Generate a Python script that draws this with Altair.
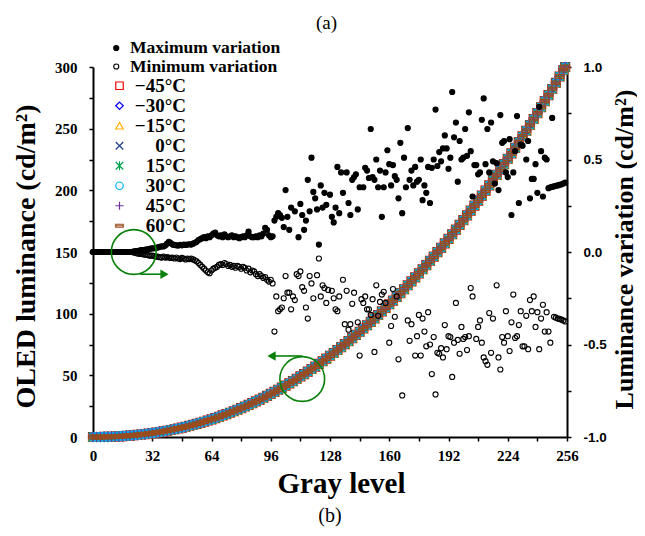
import altair as alt
import pandas as pd

# ---------------- data ----------------
temps = ["\u221245\u00b0C", "\u221230\u00b0C", "\u221215\u00b0C", "0\u00b0C",
         "15\u00b0C", "30\u00b0C", "45\u00b0C", "60\u00b0C"]
temp_colors = ["#ff0000", "#0000ff", "#ffb000", "#1f3f8f",
               "#00a050", "#00b0f0", "#7030a0", "#9c4c1c"]
temp_shapes = ["square", "diamond", "triangle-up",
               "M-1,-1L1,1M1,-1L-1,1",
               "M-1,-1L1,1M1,-1L-1,1M0,-1.2V1.2",
               "circle",
               "M-1.1,0H1.1M0,-1.1V1.1",
               "M-1,-0.4H1V0.4H-1ZM-1,0H1"]

gray_levels = list(range(0, 256, 2)) + [255]
luminance = [0.0, 0.0, 0.0, 0.1, 0.1, 0.2, 0.4, 0.5, 0.7, 0.9,
             1.1, 1.4, 1.7, 2.0, 2.3, 2.7, 3.1, 3.6, 4.0, 4.6,
             5.1, 5.7, 6.3, 6.9, 7.6, 8.3, 9.1, 9.9, 10.7, 11.5,
             12.4, 13.4, 14.3, 15.3, 16.4, 17.5, 18.6, 19.7, 20.9, 22.1,
             23.4, 24.7, 26.1, 27.5, 28.9, 30.3, 31.8, 33.4, 35.0, 36.6,
             38.3, 40.0, 41.7, 43.5, 45.3, 47.2, 49.1, 51.0, 53.0, 55.1,
             57.1, 59.3, 61.4, 63.6, 65.9, 68.1, 70.5, 72.8, 75.3, 77.7,
             80.2, 82.8, 85.3, 88.0, 90.6, 93.4, 96.1, 98.9, 101.8, 104.7,
             107.6, 110.6, 113.6, 116.7, 119.8, 123.0, 126.2, 129.4, 132.7, 136.0,
             139.4, 142.9, 146.3, 149.9, 153.4, 157.0, 160.7, 164.4, 168.2, 172.0,
             175.8, 179.7, 183.6, 187.6, 191.7, 195.7, 199.8, 204.0, 208.2, 212.5,
             216.8, 221.2, 225.6, 230.0, 234.5, 239.1, 243.7, 248.3, 253.0, 257.8,
             262.6, 267.4, 272.3, 277.2, 282.2, 287.2, 292.3, 297.4, 300.0]

# maximum variation, one value per gray level from 0 (dense part)
max_dense = [0.0] * 22 + [
    0.003, 0.005, 0.005, 0.008, 0.01, 0.01, 0.012, 0.015, 0.015, 0.018,
    0.02, 0.02, 0.022, 0.025, 0.028, 0.03, 0.03, 0.035, 0.045, 0.055,
    0.048, 0.04, 0.038, 0.036, 0.035, 0.038, 0.036, 0.04, 0.038, 0.04,
    0.042, 0.04, 0.045, 0.05, 0.055, 0.065, 0.07, 0.075, 0.08, 0.075,
    0.085, 0.08, 0.09, 0.1, 0.105, 0.09, 0.085, 0.09, 0.08, 0.095,
    0.085, 0.08, 0.085, 0.09, 0.08, 0.085, 0.08, 0.075, 0.08, 0.085,
    0.08, 0.09, 0.11, 0.085, 0.08, 0.08, 0.085, 0.08, 0.09, 0.085,
    0.1, 0.13, 0.12, 0.09, 0.08, 0.085]
# maximum variation, scattered part (gray level, value)
max_scatter = [
    (98, 0.17), (99, 0.19), (100, 0.21), (101, 0.2), (102, 0.185), (103, 0.135),
    (104, 0.335), (105, 0.19), (106, 0.12), (107, 0.24), (109, 0.22), (111, 0.08),
    (112, 0.26), (113, 0.2), (114, 0.12), (115, 0.17), (116, 0.39), (117, 0.22),
    (118, 0.51), (119, 0.325), (120, 0.29), (121, 0.23), (122, 0.04), (123, 0.36),
    (124, 0.24), (125, 0.32), (126, 0.255), (128, 0.31), (129, 0.19), (130, 0.16),
    (131, 0.24), (132, 0.46), (133, 0.21), (134, 0.43), (135, 0.32), (137, 0.43),
    (138, 0.265), (139, 0.2), (140, 0.39), (141, 0.405), (142, 0.42), (143, 0.23),
    (144, 0.35), (146, 0.35), (147, 0.455), (148, 0.44), (149, 0.4), (150, 0.665),
    (151, 0.405), (152, 0.39), (153, 0.5), (154, 0.35), (155, 0.44), (156, 0.19),
    (157, 0.35), (158, 0.43), (159, 0.55), (160, 0.475), (161, 0.36), (162, 0.47),
    (163, 0.41), (164, 0.39), (165, 0.29), (166, 0.59), (167, 0.21), (168, 0.51),
    (169, 0.35), (170, 0.67), (171, 0.39), (172, 0.44), (173, 0.36), (174, 0.46),
    (175, 0.38), (176, 0.39), (177, 0.5), (178, 0.28), (179, 0.36), (180, 0.32),
    (181, 0.46), (182, 0.265), (183, 0.455), (184, 0.5), (185, 0.77), (186, 0.465),
    (187, 0.54), (188, 0.49), (189, 0.56), (190, 0.63), (191, 0.56), (192, 0.45),
    (193, 0.51), (194, 0.865), (195, 0.62), (196, 0.70), (197, 0.38), (198, 0.6),
    (199, 0.5), (200, 0.51), (201, 0.665), (202, 0.52), (203, 0.755), (204, 0.545),
    (205, 0.3), (206, 0.47), (207, 0.47), (208, 0.42), (209, 0.43), (210, 0.715),
    (211, 0.83), (212, 0.475), (213, 0.665), (214, 0.43), (215, 0.70), (216, 0.49),
    (217, 0.37), (218, 0.48), (219, 0.335), (220, 0.74), (221, 0.59), (222, 0.6),
    (223, 0.43), (224, 0.405), (225, 0.61), (226, 0.2), (227, 0.43), (228, 0.545),
    (229, 0.735), (230, 0.265), (231, 0.58), (232, 0.575), (234, 0.5), (235, 0.6),
    (236, 0.29), (237, 0.395), (238, 0.395), (239, 0.475), (240, 0.32), (241, 0.785),
    (242, 0.545), (243, 0.30), (244, 0.51), (245, 0.5), (248, 0.725),
    (246, 0.345), (247, 0.35), (248, 0.352), (249, 0.355), (250, 0.358),
    (251, 0.36), (252, 0.363), (253, 0.366), (254, 0.37), (255, 0.375)]

# minimum variation, one value per gray level from 0 (dense part)
min_dense = [0.0] * 22 + [
    -0.003, -0.005, -0.008, -0.01, -0.01, -0.012, -0.015, -0.015, -0.018, -0.02,
    -0.02, -0.022, -0.025, -0.025, -0.028, -0.03, -0.025, -0.03, -0.028, -0.03,
    -0.032, -0.03, -0.035, -0.03, -0.035, -0.038, -0.032, -0.035, -0.04, -0.035,
    -0.038, -0.035, -0.04, -0.045, -0.05, -0.06, -0.07, -0.08, -0.09, -0.1,
    -0.11, -0.115, -0.1, -0.09, -0.085, -0.08, -0.07, -0.065, -0.07, -0.06,
    -0.065, -0.075, -0.07, -0.08, -0.075, -0.085, -0.075, -0.08, -0.09, -0.08,
    -0.085, -0.1, -0.09, -0.11, -0.1, -0.105, -0.12, -0.13, -0.12, -0.13,
    -0.14, -0.135, -0.15, -0.16, -0.15, -0.17]
min_scatter = [
    (98, -0.43), (99, -0.24), (100, -0.32), (101, -0.31), (102, -0.3), (103, -0.25),
    (104, -0.13), (105, -0.22), (106, -0.22), (107, -0.31), (108, -0.24), (109, -0.26),
    (110, -0.12), (111, -0.13), (112, -0.105), (113, -0.19), (114, -0.21), (115, -0.3),
    (116, -0.36), (117, -0.13), (118, -0.17), (119, -0.25), (121, -0.125), (122, -0.035),
    (123, -0.24), (124, -0.18), (125, -0.195), (126, -0.275), (127, -0.205), (129, -0.21),
    (130, -0.25), (131, -0.31), (132, -0.32), (133, -0.24), (135, -0.15), (136, -0.39),
    (137, -0.21), (138, -0.42), (139, -0.39), (140, -0.28), (141, -0.22), (143, -0.38),
    (144, -0.56), (145, -0.255), (146, -0.275), (147, -0.24), (148, -0.31), (149, -0.31),
    (150, -0.34), (151, -0.255), (152, -0.54), (153, -0.18), (154, -0.345), (155, -0.27),
    (156, -0.23), (157, -0.215), (158, -0.275), (160, -0.49), (161, -0.4), (162, -0.2),
    (163, -0.35), (164, -0.24), (165, -0.58), (167, -0.775), (170, -0.37), (171, -0.48),
    (172, -0.39), (174, -0.56), (175, -0.455), (176, -0.34), (177, -0.56), (178, -0.36),
    (179, -0.43), (180, -0.51), (181, -0.325), (182, -0.5), (183, -0.66), (184, -0.46),
    (185, -0.77), (186, -0.545), (187, -0.55), (188, -0.52), (189, -0.57), (190, -0.395),
    (191, -0.525), (192, -0.455), (193, -0.46), (194, -0.675), (195, -0.49), (196, -0.275),
    (197, -0.475), (198, -0.55), (199, -0.405), (200, -0.47), (201, -0.46), (202, -0.53),
    (203, -0.455), (204, -0.195), (205, -0.24), (207, -0.47), (208, -0.405), (209, -0.37),
    (210, -0.49), (211, -0.57), (212, -0.59), (213, -0.61), (214, -0.33), (215, -0.545),
    (216, -0.36), (218, -0.18), (219, -0.57), (220, -0.635), (221, -0.46), (222, -0.49),
    (223, -0.32), (224, -0.455), (225, -0.535), (226, -0.38), (227, -0.23), (228, -0.465),
    (229, -0.455), (230, -0.395), (231, -0.32), (232, -0.51), (233, -0.51), (234, -0.345),
    (235, -0.525), (236, -0.26), (237, -0.32), (238, -0.24), (239, -0.405), (240, -0.325),
    (241, -0.525), (242, -0.36), (243, -0.285), (244, -0.43), (245, -0.325), (246, -0.43),
    (247, -0.49), (249, -0.35), (250, -0.355), (251, -0.36), (252, -0.362), (253, -0.366),
    (254, -0.37), (255, -0.375)]

kind_max = "Maximum variation"
kind_min = "Minimum variation"

# green annotation marks (circle + arrow for each axis)
circle_var = {"gray": [22], "var": [0.0]}
arrow_var = {"gray": [25.5], "gray2": [39.0], "var": [-0.12]}
head_var = {"gray": [38.6], "var": [-0.12]}
circle_lum = {"gray": [113], "lum": [47]}
arrow_lum = {"gray": [113], "gray2": [97.0], "lum": [65.7]}
head_lum = {"gray": [96.4], "lum": [65.7]}

# ---------------- frames ----------------
lum_df = pd.DataFrame([{"gray": g, "lum": v, "temp": t}
                       for t in temps for g, v in zip(gray_levels, luminance)])
max_df = pd.DataFrame([{"gray": g, "var": v, "kind": kind_max} for g, v in enumerate(max_dense)] +
                      [{"gray": g, "var": v, "kind": kind_max} for g, v in max_scatter])
min_df = pd.DataFrame([{"gray": g, "var": v, "kind": kind_min} for g, v in enumerate(min_dense)] +
                      [{"gray": g, "var": v, "kind": kind_min} for g, v in min_scatter])

# ---------------- style ----------------
SERIF = "Liberation Serif"
SANS = "Liberation Sans"
GREEN = "#0a800a"

xscale = alt.Scale(domain=[0, 256], nice=False, zero=False)
lscale = alt.Scale(domain=[0, 300], nice=False, zero=False)
vscale = alt.Scale(domain=[-1, 1], nice=False, zero=False)

common_axis = dict(grid=False, domainColor="black", domainWidth=2, tickColor="black",
                   tickWidth=1.5, tickSize=4, labelColor="black", titleColor="black",
                   labelOverlap=False)

x_bottom = alt.Axis(orient="bottom", values=list(range(0, 257, 16)),
                    labelExpr="datum.value % 32 === 0 ? datum.label : ''",
                    labelFont=SERIF, labelFontSize=15, labelFontWeight="bold",
                    labelPadding=7, labelFlush=False,
                    title="Gray level", titleFont=SERIF, titleFontSize=29,
                    titleFontWeight="bold", titleX=248, titleY=55,
                    titleAlign="center", titleBaseline="alphabetic", **common_axis)
x_top = alt.Axis(orient="top", domain=False, ticks=False, labels=False,
                 title="(a)", titleFont=SERIF, titleFontSize=19, titleFontWeight="normal",
                 titleColor="black", titleX=233, titleY=-45, titleAlign="center",
                 titleBaseline="middle", grid=False)
y_left = alt.Axis(orient="left", values=list(range(0, 301, 25)),
                  labelExpr="datum.value % 50 === 0 ? datum.label : ''",
                  labelFont=SERIF, labelFontSize=15, labelFontWeight="bold",
                  labelPadding=12,
                  title="OLED luminance (cd/m\u00b2)", titleFont=SERIF, titleFontSize=28,
                  titleFontWeight="bold", titleAngle=270, titleX=-67, titleY=189,
                  titleAlign="center", titleBaseline="middle", **common_axis)
y_right = alt.Axis(orient="right", values=[-1, -0.75, -0.5, -0.25, 0, 0.25, 0.5, 0.75, 1],
                   labelExpr=("abs(datum.value*2 - round(datum.value*2)) < 0.001 ? "
                              "(datum.value < 0 ? '-' : '') + format(abs(datum.value), '.1f') : ''"),
                   labelFont=SANS, labelFontSize=13.5, labelFontWeight="bold",
                   labelPadding=12,
                   title="Luminance variation (cd/m\u00b2)", titleFont=SERIF, titleFontSize=26,
                   titleFontWeight="bold", titleAngle=270, titleX=57, titleY=182,
                   titleAlign="center", titleBaseline="middle", **common_axis)

temp_legend = alt.Legend(title=None, orient="none", legendX=17, legendY=9,
                         direction="vertical", padding=0,
                         labelFont=SERIF, labelFontSize=19, labelFontWeight="bold",
                         labelColor="black", labelAlign="right", labelOffset=57,
                         labelLimit=300, symbolSize=56, symbolStrokeWidth=1.2,
                         clipHeight=19.5, rowPadding=0)


def kind_legend(y):
    return alt.Legend(title=None, orient="none", legendX=14.5, legendY=y,
                      direction="vertical", padding=0,
                      labelFont=SERIF, labelFontSize=17.5, labelFontWeight="bold",
                      labelColor="black", labelOffset=5, labelLimit=300,
                      symbolType="circle", symbolSize=26, symbolStrokeColor="black",
                      symbolStrokeWidth=1.1, clipHeight=16, rowPadding=0)


# ---------------- layer A: luminance (left axis) ----------------
band = alt.Chart(lum_df).mark_point(filled=False, size=80, strokeWidth=1.2, opacity=1).encode(
    x=alt.X("gray:Q", scale=xscale, axis=x_bottom),
    y=alt.Y("lum:Q", scale=lscale, axis=y_left),
    color=alt.Color("temp:N", scale=alt.Scale(domain=temps, range=temp_colors), legend=temp_legend),
    shape=alt.Shape("temp:N", scale=alt.Scale(domain=temps, range=temp_shapes), legend=temp_legend),
)
ring_lum = alt.Chart(pd.DataFrame(circle_lum)).mark_point(
    shape="circle", filled=False, size=2000, stroke=GREEN, strokeWidth=1.6, opacity=1).encode(
    x=alt.X("gray:Q", scale=xscale, axis=x_bottom),
    y=alt.Y("lum:Q", scale=lscale, axis=y_left))
line_lum = alt.Chart(pd.DataFrame(arrow_lum)).mark_rule(color=GREEN, strokeWidth=1.6).encode(
    x=alt.X("gray:Q", scale=xscale, axis=x_bottom), x2="gray2:Q",
    y=alt.Y("lum:Q", scale=lscale, axis=y_left))
tip_lum = alt.Chart(pd.DataFrame(head_lum)).mark_point(
    shape="triangle-left", filled=True, size=90, color=GREEN, opacity=1).encode(
    x=alt.X("gray:Q", scale=xscale, axis=x_bottom),
    y=alt.Y("lum:Q", scale=lscale, axis=y_left))
layer_a = alt.layer(band, ring_lum, line_lum, tip_lum)

# ---------------- layer B: variation (right axis) ----------------
max_pts = alt.Chart(max_df).mark_point(shape="circle", size=26, strokeWidth=1.1,
                                       stroke="black", opacity=1).encode(
    x=alt.X("gray:Q", scale=xscale, axis=x_top),
    y=alt.Y("var:Q", scale=vscale, axis=y_right),
    fill=alt.Fill("kind:N", scale=alt.Scale(domain=[kind_max], range=["black"]),
                  legend=kind_legend(-27)),
)
min_pts = alt.Chart(min_df).mark_point(shape="circle", size=26, strokeWidth=1.1,
                                       stroke="black", opacity=1).encode(
    x=alt.X("gray:Q", scale=xscale, axis=x_top),
    y=alt.Y("var:Q", scale=vscale, axis=y_right),
    fill=alt.Fill("kind:N", scale=alt.Scale(domain=[kind_min], range=["transparent"]),
                  legend=kind_legend(-8.5)),
)
ring_var = alt.Chart(pd.DataFrame(circle_var)).mark_point(
    shape="circle", filled=False, size=2000, stroke=GREEN, strokeWidth=1.6, opacity=1).encode(
    x=alt.X("gray:Q", scale=xscale, axis=x_top),
    y=alt.Y("var:Q", scale=vscale, axis=y_right))
line_var = alt.Chart(pd.DataFrame(arrow_var)).mark_rule(color=GREEN, strokeWidth=1.6).encode(
    x=alt.X("gray:Q", scale=xscale, axis=x_top), x2="gray2:Q",
    y=alt.Y("var:Q", scale=vscale, axis=y_right))
tip_var = alt.Chart(pd.DataFrame(head_var)).mark_point(
    shape="triangle-right", filled=True, size=90, color=GREEN, opacity=1).encode(
    x=alt.X("gray:Q", scale=xscale, axis=x_top),
    y=alt.Y("var:Q", scale=vscale, axis=y_right))
layer_b = alt.layer(max_pts, min_pts, ring_var, line_var, tip_var).resolve_scale(
    fill="independent").resolve_legend(fill="independent")

chart = alt.layer(layer_a, layer_b).resolve_scale(y="independent").resolve_axis(
    x="independent", y="independent"
).properties(
    width=474, height=370,
    padding={"left": 85, "top": 59, "right": 70, "bottom": 91},
    autosize=alt.AutoSizeParams(type="none"),
    background="white",
    title=alt.TitleParams("(b)", orient="bottom", font=SERIF, fontSize=20,
                          fontWeight="normal", color="black", offset=8, anchor="middle"),
).configure_view(stroke=None)

chart.save("out.html", embed_options={"renderer": "svg", "actions": False})
